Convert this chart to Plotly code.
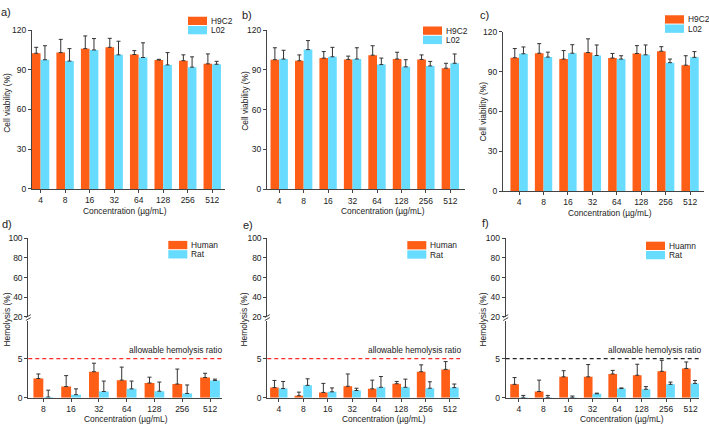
import plotly.graph_objects as go

W, H = 709, 431
ORANGE = "#FF5E17"
CYAN = "#67DCFF"
AX = "#444444"
FONT = "Liberation Sans, Arial, sans-serif"

conc8 = ["4", "8", "16", "32", "64", "128", "256", "512"]
conc7 = ["8", "16", "32", "64", "128", "256", "512"]

# Cell viability (%)
a_h9c2 = [102.5, 103.0, 106.0, 107.0, 101.5, 97.4, 96.9, 94.5]
a_h9c2_err = [4.5, 10.0, 9.6, 6.8, 3.0, 0.5, 4.4, 7.5]
a_l02 = [97.6, 96.6, 105.0, 101.3, 99.3, 93.7, 92.0, 94.2]
a_l02_err = [10.6, 9.4, 8.6, 10.3, 11.1, 9.3, 7.8, 2.2]

b_h9c2 = [97.7, 96.9, 98.9, 97.9, 101.1, 98.2, 97.9, 91.3]
b_h9c2_err = [9.0, 4.4, 4.9, 2.5, 7.1, 5.1, 3.4, 3.7]
b_l02 = [98.2, 105.3, 99.9, 98.2, 94.0, 92.3, 93.0, 95.0]
b_l02_err = [6.6, 6.8, 7.1, 8.5, 4.9, 5.4, 3.4, 7.0]

c_h9c2 = [100.4, 103.8, 99.4, 104.3, 100.2, 103.6, 105.3, 94.8]
c_h9c2_err = [6.9, 7.2, 6.4, 10.3, 3.4, 5.9, 3.4, 7.1]
c_l02 = [103.4, 100.9, 103.8, 102.1, 99.4, 102.6, 96.7, 100.7]
c_l02_err = [5.1, 3.7, 6.4, 7.9, 2.5, 7.4, 2.7, 4.3]

# Hemolysis (%)
d_human = [2.46, 1.42, 3.33, 2.25, 1.88, 1.75, 2.58]
d_human_err = [0.58, 1.41, 1.09, 1.67, 0.75, 1.92, 0.55]
d_rat = [0.08, 0.38, 0.79, 1.13, 0.83, 0.54, 2.21]
d_rat_err = [0.88, 0.75, 1.34, 1.00, 1.17, 1.09, 0.17]

e_human = [1.29, 0.25, 0.67, 1.46, 1.13, 1.79, 3.33, 3.63]
e_human_err = [0.92, 0.46, 1.16, 1.58, 1.12, 0.29, 0.88, 1.00]
e_rat = [1.17, 1.58, 0.75, 0.92, 1.33, 1.33, 1.21, 1.29]
e_rat_err = [0.91, 0.84, 0.50, 0.29, 1.38, 1.05, 0.83, 0.46]

f_human = [1.71, 0.79, 2.67, 2.67, 3.04, 2.88, 3.38, 3.75]
f_human_err = [0.87, 1.46, 0.79, 1.58, 0.46, 1.41, 1.41, 0.83]
f_rat = [0.04, 0.04, 0.04, 0.50, 1.17, 1.08, 1.71, 1.83]
f_rat_err = [0.25, 0.25, 0.17, 0.08, 0.08, 0.34, 0.29, 0.38]

allow_limit = 5

TICK_FS = 8.5
TITLE_FS = 8.4
LEG_FS = 8.4
LABEL_FS = 11


def px(x):
    return x / W


def py(y):
    return 1 - y / H


fig = go.Figure()


def add_bars(xa, ya, cats, v1, e1, v2, e2, n1, n2):
    for vals, errs, col, name in ((v1, e1, ORANGE, n1), (v2, e2, CYAN, n2)):
        fig.add_trace(go.Bar(
            x=cats, y=vals, name=name, marker_color=col,
            marker_line_width=0, xaxis=xa, yaxis=ya, showlegend=False,
            error_y=dict(type="data", array=errs, arrayminus=[0] * len(errs),
                         symmetric=False, color="#333333", thickness=1, width=2),
        ))


top_panels = [
    ("x", "y", conc8, a_h9c2, a_h9c2_err, a_l02, a_l02_err, (32, 225), (25.7, 188.3), (-0.35, 7.52)),
    ("x2", "y2", conc8, b_h9c2, b_h9c2_err, b_l02, b_l02_err, (267, 465), (25.7, 188.7), (-0.5, 7.6)),
    ("x3", "y3", conc8, c_h9c2, c_h9c2_err, c_l02, c_l02_err, (503, 704), (27.3, 190.7), (-0.66, 7.57)),
]
bottom_panels = [
    ("x4", "y4", "y7", conc7, d_human, d_human_err, d_rat, d_rat_err, (28.3, 221.7), (-0.54, 6.42), "#FF2A2A", "Human"),
    ("x5", "y5", "y8", conc8, e_human, e_human_err, e_rat, e_rat_err, (267.3, 460), (-0.47, 7.41), "#FF2A2A", "Human"),
    ("x6", "y6", "y9", conc8, f_human, f_human_err, f_rat, f_rat_err, (505.7, 699), (-0.54, 7.34), "#222222", "Huamn"),
]

tickfont = dict(family=FONT, size=TICK_FS, color="#222")
axis_common = dict(showline=True, linecolor=AX, linewidth=1, ticks="outside",
                   ticklen=3, tickcolor=AX, tickwidth=1, showgrid=False,
                   zeroline=False, tickfont=tickfont, fixedrange=True)

layout = {}
annotations = []
shapes = []


def key(a):
    return a.replace("x", "xaxis").replace("y", "yaxis")


def text(t, x, y, size, angle=0, xanchor="center"):
    annotations.append(dict(text=t, xref="paper", yref="paper", x=px(x), y=py(y),
                            xanchor=xanchor, yanchor="middle", textangle=angle,
                            showarrow=False, font=dict(family=FONT, size=size, color="#222")))


def legend(x0, y0, texts):
    h = 8.5
    for i, (col, t) in enumerate(zip((ORANGE, CYAN), texts)):
        top = y0 + i * (h + 1)
        shapes.append(dict(type="rect", xref="paper", yref="paper",
                           x0=px(x0), x1=px(x0 + 19), y0=py(top + h), y1=py(top),
                           fillcolor=col, line_width=0))
        text(t, x0 + 21, top + h / 2, LEG_FS, xanchor="left")


labels_top = [("a)", 6, 7), ("b)", 247, 10), ("c)", 484, 10)]
legend_top = [(188, 12), (423, 22), (665, 10.5)]
ytitle_top = [(7, 100), (245, 98), (483, 109)]
xtitle_top = [(125, 210.5), (383, 211), (610, 212.5)]

for i, (xa, ya, cats, v1, e1, v2, e2, xd, yd, xr) in enumerate(top_panels):
    add_bars(xa, ya, cats, v1, e1, v2, e2, "H9C2", "L02")
    layout[key(xa)] = dict(axis_common, domain=[px(xd[0]), px(xd[1])], anchor=ya,
                           range=list(xr), type="category")
    layout[key(ya)] = dict(axis_common, domain=[py(yd[1]), py(yd[0])], anchor=xa,
                           range=[0, 120], tickvals=[0, 30, 60, 90, 120])
    lab, lx, ly = labels_top[i]
    text(lab, lx, ly, LABEL_FS)
    legend(*legend_top[i], ("H9C2", "L02"))
    tx, ty = ytitle_top[i]
    text("Cell viability (%)", tx, ty, TITLE_FS, angle=-90)
    tx, ty = xtitle_top[i]
    text("Concentration (µg/mL)", tx, ty, TITLE_FS)

labels_bot = [("d)", 7, 224), ("e)", 248, 225), ("f)", 485, 223)]
legend_bot = [(168.3, 241.5), (407.3, 241.7), (646, 242.3)]
ytitle_bot = [(7, 322), (244, 322), (483, 322)]
xtitle_bot = [(125.7, 424), (384, 424), (621.7, 424)]
allow_text = [(175.7, 353), (414, 353), (654, 353)]

for i, (xa, ya, yu, cats, v1, e1, v2, e2, xd, xr, lcol, hname) in enumerate(bottom_panels):
    add_bars(xa, ya, cats, v1, e1, v2, e2, hname, "Rat")
    layout[key(xa)] = dict(axis_common, domain=[px(xd[0]), px(xd[1])], anchor=ya,
                           range=list(xr), type="category")
    layout[key(ya)] = dict(axis_common, domain=[py(402), py(323)], anchor=xa,
                           range=[0, 9.9], tickvals=[0, 5])
    layout[key(yu)] = dict(axis_common, domain=[py(319), py(239)], anchor=xa,
                           range=[20, 100], tickvals=[20, 40, 60, 80, 100])
    # empty trace so the upper part of the broken axis is drawn
    fig.add_trace(go.Scatter(x=[], y=[], xaxis=xa, yaxis=yu, showlegend=False))
    shapes.append(dict(type="line", xref=f"{xa} domain", yref=ya, x0=0, x1=1,
                       y0=allow_limit, y1=allow_limit, line=dict(color=lcol, width=1.2, dash="4px,3px")))
    # axis break marks
    for dy in (0, 3):
        shapes.append(dict(type="line", xref="paper", yref="paper",
                           x0=px(xd[0] - 2.5), x1=px(xd[0] + 2.5),
                           y0=py(323 - dy), y1=py(320 - dy), line=dict(color=AX, width=1)))
    lab, lx, ly = labels_bot[i]
    text(lab, lx, ly, LABEL_FS)
    legend(*legend_bot[i], (hname, "Rat"))
    tx, ty = ytitle_bot[i]
    text("Hemolysis (%)", tx, ty, TITLE_FS, angle=-90)
    tx, ty = xtitle_bot[i]
    text("Concentration (µg/mL)", tx, ty, TITLE_FS)
    tx, ty = allow_text[i]
    text("allowable hemolysis ratio", tx, ty, TITLE_FS)

fig.update_layout(
    width=W, height=H, margin=dict(l=0, r=0, t=0, b=0),
    paper_bgcolor="white", plot_bgcolor="white",
    barmode="group", bargap=0.29, bargroupgap=0,
    showlegend=False, annotations=annotations, shapes=shapes,
    font=dict(family=FONT, size=9, color="#222"),
    **layout,
)

fig.write_html(
    "out.html",
    config={"displayModeBar": False, "staticPlot": True},
    post_script="document.body.style.margin='0';document.body.style.padding='0';"
                "document.body.style.overflow='hidden';",
)
